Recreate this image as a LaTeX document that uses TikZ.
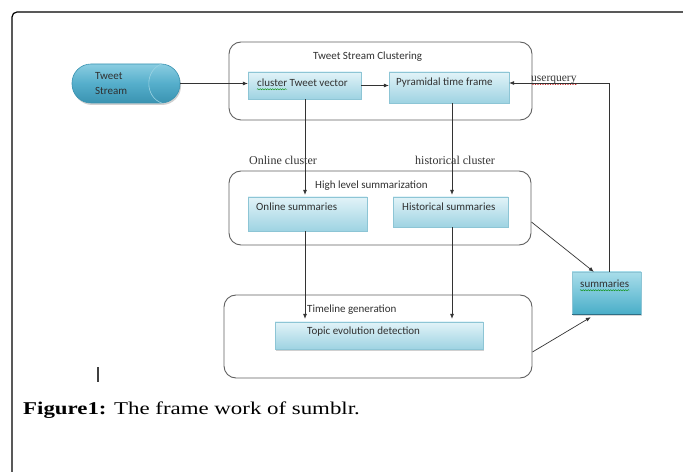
\documentclass[tikz,border=0pt]{standalone}
\usepackage{fontspec}
\setmainfont{Liberation Serif}
\newfontfamily\calfont{Carlito}
\newfontfamily\capfont[FakeStretch=1.27]{Liberation Serif}
\usetikzlibrary{arrows.meta,shadows,decorations.pathmorphing}
\definecolor{boxtop}{HTML}{E2F3F8}
\definecolor{boxbot}{HTML}{9ED3E2}
\definecolor{boxedge}{HTML}{8DC5D5}
\definecolor{captop}{HTML}{8ACDE1}
\definecolor{capmid}{HTML}{55AECB}
\definecolor{capbot}{HTML}{3A93B1}
\definecolor{capline}{HTML}{9BD3E3}
\definecolor{sumtop}{HTML}{A9DDEA}
\definecolor{summid}{HTML}{79C6DA}
\definecolor{sumbot}{HTML}{4AAEC8}
\definecolor{sumline}{HTML}{2E6E85}
\definecolor{txt}{HTML}{303030}
\begin{document}
\begin{tikzpicture}[x=1bp,y=-1bp,
  grp/.style={draw=black!62, line width=0.9bp, rounded corners=12bp, inner sep=0},
  pbox/.style={draw=boxedge, line width=0.3bp, top color=boxtop, bottom color=boxbot, inner sep=0,
    drop shadow={shadow xshift=1.2bp, shadow yshift=-1.5bp, opacity=0.3, fill=black!60}},
  dtext/.style={font=\calfont\fontsize{11bp}{13bp}\selectfont, text=txt, inner sep=0, anchor=west},
  stext/.style={font=\fontsize{12bp}{14bp}\selectfont, text=black!80, inner sep=0, anchor=west},
  arr/.style={draw=black!80, line width=0.7bp, -{Latex[length=5bp,width=4bp]}},
  wavyg/.style={draw=green!55!black, line width=0.4bp, decorate, decoration={snake, segment length=2.5bp, amplitude=0.6bp}},
  wavyr/.style={draw=red!75!black, line width=0.4bp, decorate, decoration={snake, segment length=2.5bp, amplitude=0.6bp}}
]
\useasboundingbox (0,0) rectangle (683,472);
\fill[white] (0,0) rectangle (683,472);
% outer frame
\begin{scope}
  \clip (0,0) rectangle (683,472);
  \draw[line width=1.2bp, rounded corners=5bp] (12,12) rectangle (700,500);
\end{scope}

% group boxes
\node[grp, minimum width=303bp, minimum height=78bp] (g1) at (380.5,81) {};
\node[grp, minimum width=302bp, minimum height=74bp] (g2) at (380,208) {};
\node[grp, minimum width=308bp, minimum height=83bp] (g3) at (378,336.5) {};

% tweet stream capsule
\node[draw=capbot, line width=0.6bp, rounded corners=19bp, minimum width=108bp, minimum height=39bp,
  top color=captop, bottom color=capbot, middle color=capmid, inner sep=0,
  drop shadow={shadow xshift=1bp, shadow yshift=-2bp, opacity=0.3, fill=black!60}] (ts) at (126,83.5) {};
\draw[capline, line width=0.6bp] ([xshift=-18bp]ts.north east) .. controls ([xshift=-36bp,yshift=-6bp]ts.north east) and ([xshift=-36bp,yshift=6bp]ts.south east) .. ([xshift=-18bp]ts.south east);
\node[dtext] (tst1) at (95,76) {Tweet};
\node[dtext] (tst2) at (95,91) {Stream};

% process boxes
\node[pbox, minimum width=113bp, minimum height=27bp] (cv) at (304.5,85.5) {};
\node[pbox, minimum width=120bp, minimum height=31bp] (pyr) at (449,87.5) {};
\node[pbox, minimum width=119bp, minimum height=34bp] (os) at (307.5,214) {};
\node[pbox, minimum width=115bp, minimum height=30bp] (hs) at (450.5,212) {};
\node[pbox, minimum width=208bp, minimum height=27bp] (te) at (379,335.5) {};
\node[draw=boxedge, line width=0.3bp, top color=sumtop, bottom color=sumbot, middle color=summid, inner sep=0,
  minimum width=69bp, minimum height=42bp,
  drop shadow={shadow xshift=1bp, shadow yshift=-1.5bp, opacity=0.25, fill=black!60}] (sum) at (606.5,293) {};
\draw[sumline, line width=1.2bp] (sum.south west) -- (sum.south east);

% texts
\node[dtext] (g1t) at (313,57) {Tweet Stream Clustering};
\node[dtext] (cvt) at (257,83) {cluster Tweet vector};
\node[dtext] (pyt) at (396,83) {Pyramidal time frame};
\node[dtext] (g2t) at (315,186) {High level summarization};
\node[dtext] (ost) at (256,207) {Online summaries};
\node[dtext] (hst) at (402,207) {Historical summaries};
\node[dtext] (g3t) at (307,310) {Timeline generation};
\node[dtext] (tet) at (307,332) {Topic evolution detection};
\node[dtext] (sumt) at (580,284) {summaries};
\node[stext] (ocl) at (249,160) {Online cluster};
\node[stext] (hcl) at (415,160) {historical cluster};
\node[stext, font=\fontsize{11.5bp}{13bp}\selectfont] (uq) at (531,80) {userquery};

% squiggles
\draw[wavyg] ([yshift=-2.5bp]cvt.base west) -- ++(30,0);
\draw[wavyg] ([yshift=-2.5bp]sumt.base west) -- ([yshift=-2.5bp]sumt.base east);
\draw[wavyr] ([yshift=-2.5bp]uq.base west) -- ([yshift=-2.5bp]uq.base east);

% connectors
\coordinate (cx) at (305,0);
\coordinate (hx) at (452,0);
\coordinate (uqc) at (609,83);
\draw[arr] (ts.east) -- (ts.east -| cv.west);
\draw[arr] (cv.east) -- (cv.east -| pyr.west);
\draw[arr] (sum.north -| uqc) -- (uqc) -- (uqc -| pyr.east);
\draw[arr, shorten >=2bp] (cv.south -| cx) -- (os.north -| cx);
\draw[arr, shorten >=2bp] (pyr.south -| hx) -- (hs.north -| hx);
\draw[arr, shorten >=3bp] (os.south -| cx) -- (te.north -| cx);
\draw[arr, shorten >=3bp] (hs.south -| hx) -- (te.north -| hx);
\draw[arr] ([yshift=-14bp]g2.east) -- ([xshift=22bp]sum.north west);
\draw[arr] ([yshift=-15.5bp]g3.east) -- ([xshift=19bp,yshift=-3bp]sum.south west);

% cursor mark
\draw[line width=1.3bp, black!75] (98,367) -- (98,382);

% caption
\node[anchor=base west, inner sep=0, font=\capfont\fontsize{18bp}{21bp}\selectfont] (cap) at (23,414) {\textbf{Figure1:} The frame work of sumblr.};
\end{tikzpicture}
\end{document}
